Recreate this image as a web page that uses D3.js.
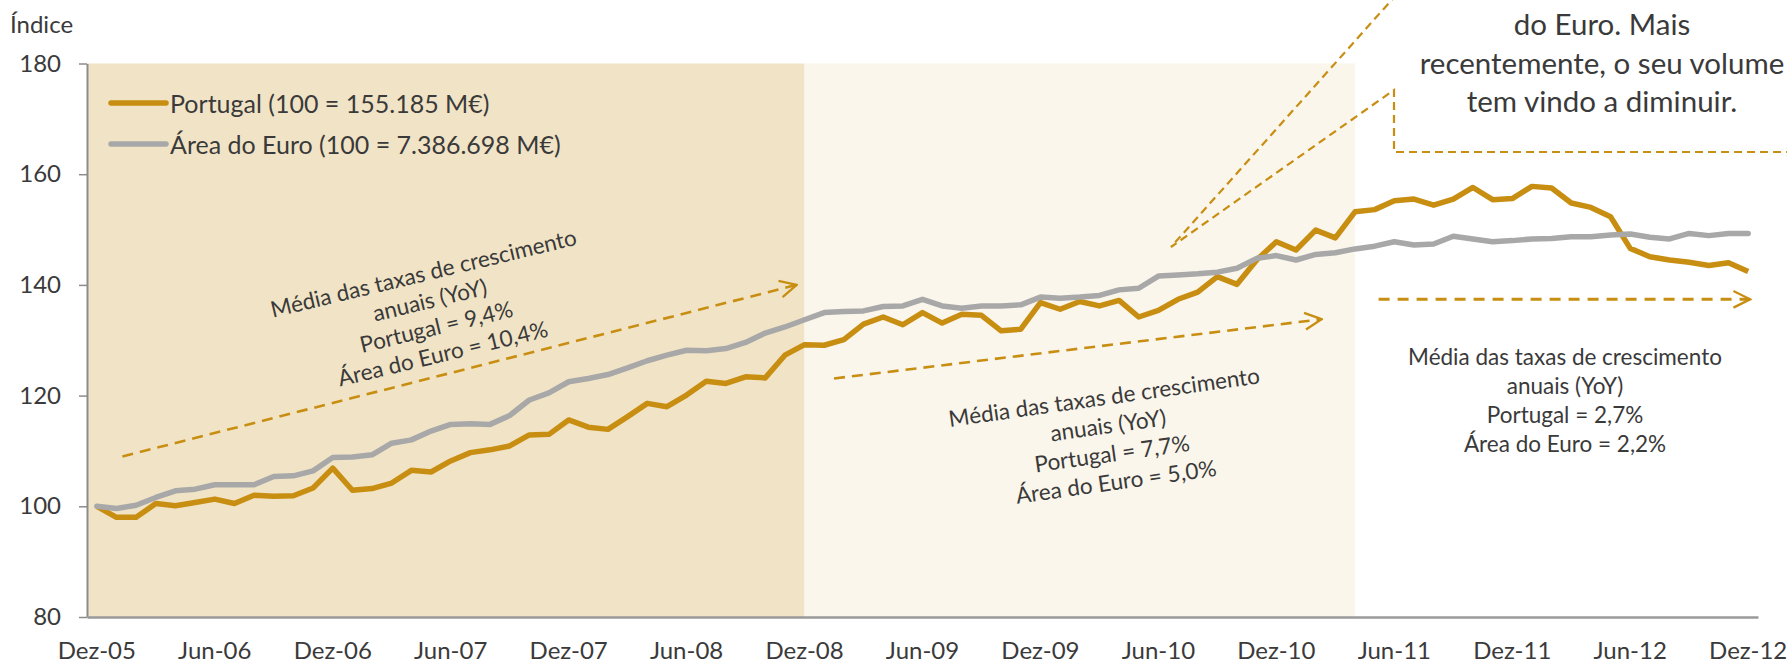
<!DOCTYPE html>
<html>
<head>
<meta charset="utf-8">
<script src="https://cdn.jsdelivr.net/npm/d3@7"></script>
<style>
  body { margin: 0; background: #fff; }
  svg text { font-family: Lato, "Open Sans", sans-serif; fill: #3a3a3a; }
</style>
</head>
<body>
<div id="chart"></div>
<script>
// chart size
const width = 1787
const height = 663

// month names (pt) used to build the monthly categories Dez-05 .. Dez-12
const monthNames = ["Jan", "Fev", "Mar", "Abr", "Mai", "Jun", "Jul", "Ago", "Set", "Out", "Nov", "Dez"]
const categories = []
for (let k = 0; k < 85; k++) {
  const m = (11 + k) % 12
  const yy = 5 + Math.floor((11 + k) / 12)
  categories.push(monthNames[m] + "-" + String(yy).padStart(2, "0"))
}
// x tick labels: every December and June
const xTickLabels = categories.filter((d, i) => i % 6 === 0)
const yTicks = [80, 100, 120, 140, 160, 180]

// index values (100 = Dez-05)
const portugal = [
  100.0, 98.0, 98.0, 100.5, 100.1, 100.7, 101.3, 100.5, 102.0, 101.8, 101.9, 103.3,
  106.9, 102.9, 103.2, 104.2, 106.5, 106.2, 108.2, 109.7, 110.2, 110.9, 112.9, 113.0,
  115.6, 114.3, 113.9, 116.2, 118.6, 118.0, 120.1, 122.6, 122.2, 123.4, 123.2, 127.3,
  129.2, 129.1, 130.1, 132.9, 134.2, 132.8, 135.0, 133.1, 134.7, 134.5, 131.7, 132.0,
  136.8, 135.6, 137.0, 136.2, 137.2, 134.2, 135.4, 137.4, 138.7, 141.5, 140.1, 144.5,
  147.8, 146.3, 149.9, 148.5, 153.2, 153.6, 155.2, 155.5, 154.4, 155.5, 157.6, 155.4,
  155.6, 157.8, 157.5, 154.8, 154.0, 152.3, 146.6, 145.1, 144.5, 144.1, 143.5, 144.0,
  142.4
]
const areaEuro = [
  100.0, 99.6, 100.2, 101.6, 102.8, 103.1, 103.9, 103.9, 103.9, 105.4, 105.5, 106.4,
  108.8, 108.9, 109.3, 111.4, 112.0, 113.6, 114.8, 114.9, 114.8, 116.4, 119.2, 120.5,
  122.5, 123.1, 123.8, 125.0, 126.3, 127.3, 128.2, 128.1, 128.5, 129.6, 131.3, 132.4,
  133.7, 135.0, 135.2, 135.3, 136.1, 136.2, 137.4, 136.2, 135.8, 136.2, 136.2, 136.4,
  137.8, 137.6, 137.8, 138.1, 139.1, 139.4, 141.6, 141.8, 142.0, 142.3, 143.0, 144.8,
  145.3, 144.5, 145.5, 145.8, 146.5, 147.0, 147.8, 147.2, 147.4, 148.8, 148.3, 147.8,
  148.0, 148.3, 148.4, 148.7, 148.7, 149.0, 149.2, 148.6, 148.3, 149.3, 148.9, 149.3,
  149.3
]

// shaded periods, in category index units (from, to)
const periods = [[-0.5, 36], [36, 64]]
const periodFills = ["#F1E4C6", "#FAF6EC"]

// growth arrows: [index, value] start and end
const arrows = [
  [[1.3, 109.0], [35.6, 140.0]],
  [[37.5, 123.1], [62.3, 133.8]],
  [[65.2, 137.4], [84.1, 137.4]]
]
const notes = [
  ["Média das taxas de crescimento", "anuais (YoY)", "Portugal = 9,4%", "Área do Euro = 10,4%"],
  ["Média das taxas de crescimento", "anuais (YoY)", "Portugal = 7,7%", "Área do Euro = 5,0%"],
  ["Média das taxas de crescimento", "anuais (YoY)", "Portugal = 2,7%", "Área do Euro = 2,2%"]
]
const calloutText = ["do Euro. Mais", "recentemente, o seu volume", "tem vindo a diminuir."]

const gold = "#C88E12"
const grey = "#A8A8A8"
const axisGrey = "#8C8C8C"

var svg = d3.select("#chart")
            .append("svg")
            .attr("width", width)
            .attr("height", height)

var x = d3.scaleBand().domain(categories).range([87, 1758])
var y = d3.scaleLinear().domain([80, 180]).range([617, 63.5])

// x position for a (fractional) category index
function xi(i) { return x.range()[0] + (i + 0.5) * x.bandwidth() }

// shaded backgrounds
svg.append("g")
   .selectAll("rect")
   .data(periods)
   .enter()
   .append("rect")
   .attr("x", d => xi(d[0]))
   .attr("width", d => xi(d[1]) - xi(d[0]))
   .attr("y", y(180))
   .attr("height", y(80) - y(180))
   .attr("fill", (d, i) => periodFills[i])

// arrow head marker
svg.append("defs").append("marker")
   .attr("id", "head")
   .attr("viewBox", "0 0 12 12")
   .attr("refX", 11).attr("refY", 6)
   .attr("markerWidth", 20).attr("markerHeight", 20)
   .attr("markerUnits", "userSpaceOnUse")
   .attr("orient", "auto")
   .append("path")
   .attr("d", "M1,1 L11,6 L1,11")
   .attr("fill", "none")
   .attr("stroke", gold)
   .attr("stroke-width", 1.4)

// axes
var yAxis = svg.append("g")
   .attr("transform", "translate(87,0)")
   .call(d3.axisLeft(y).tickValues(yTicks).tickSize(8).tickSizeOuter(0).tickPadding(18))
yAxis.select(".domain").attr("stroke", axisGrey).attr("stroke-width", 2)
yAxis.selectAll(".tick line").attr("stroke", axisGrey).attr("stroke-width", 1.5)
yAxis.selectAll(".tick text").style("font-size", "24px")

var xAxis = svg.append("g")
   .attr("transform", "translate(0,617)")
   .call(d3.axisBottom(x).tickValues(xTickLabels).tickSize(0).tickSizeOuter(0).tickPadding(25))
xAxis.select(".domain").attr("stroke", "#9A9A9A").attr("stroke-width", 2.5)
xAxis.selectAll(".tick text").style("font-size", "24px")

svg.append("text")
   .attr("x", 10).attr("y", 33)
   .style("font-size", "24px")
   .text("Índice")

// dashed growth arrows
svg.append("g")
   .selectAll("line")
   .data(arrows)
   .enter()
   .append("line")
   .attr("x1", d => xi(d[0][0])).attr("y1", d => y(d[0][1]))
   .attr("x2", d => xi(d[1][0])).attr("y2", d => y(d[1][1]))
   .attr("stroke", gold)
   .attr("stroke-width", (d, i) => i === 2 ? 3 : 2.6)
   .attr("stroke-dasharray", (d, i) => i === 2 ? "11 8" : "11 7")
   .attr("marker-end", "url(#head)")

// series lines
var line = d3.line()
   .x((d, i) => xi(i))
   .y(d => y(d))
   .curve(d3.curveLinear)

svg.append("path")
   .datum(portugal)
   .attr("d", line)
   .attr("fill", "none")
   .attr("stroke", gold)
   .attr("stroke-width", 5.5)
   .attr("stroke-linejoin", "round")

svg.append("path")
   .datum(areaEuro)
   .attr("d", line)
   .attr("fill", "none")
   .attr("stroke", grey)
   .attr("stroke-width", 5.5)
   .attr("stroke-linejoin", "round")
   .attr("stroke-linecap", "round")

// annotation texts (centre, rotation, line spacing)
const noteLayout = [
  {cx: 433, cy: 313, rot: -13.5, gap: 27.5},
  {cx: 1110, cy: 439, rot: -8, gap: 28.5},
  {cx: 1565, cy: 400, rot: 0, gap: 29}
]
notes.forEach(function(lines, n) {
  var L = noteLayout[n]
  var g = svg.append("g")
     .attr("transform", "translate(" + L.cx + "," + L.cy + ") rotate(" + L.rot + ")")
  g.selectAll("text")
   .data(lines)
   .enter()
   .append("text")
   .attr("text-anchor", "middle")
   .attr("dominant-baseline", "central")
   .attr("y", (d, i) => (i - 1.5) * L.gap)
   .style("font-size", "22.5px")
   .text(d => d)
})

// callout box, top right
svg.append("path")
   .attr("d", "M1397,-6 L1171,247 L1394,90 L1394,152 L1790,152")
   .attr("fill", "none")
   .attr("stroke", gold)
   .attr("stroke-width", 2.2)
   .attr("stroke-dasharray", "8 5")

svg.append("g")
   .selectAll("text")
   .data(calloutText)
   .enter()
   .append("text")
   .attr("x", 1602)
   .attr("y", (d, i) => 35 + i * 38.5)
   .attr("text-anchor", "middle")
   .style("font-size", "29.5px")
   .text(d => d)

// legend
const legendItems = [
  {label: "Portugal (100 = 155.185 M€)", color: gold},
  {label: "Área do Euro (100 = 7.386.698 M€)", color: grey}
]
var legend = svg.append("g")
   .selectAll("g")
   .data(legendItems)
   .enter()
   .append("g")
   .attr("transform", (d, i) => "translate(111," + (103 + i * 41) + ")")
legend.append("line")
   .attr("x1", 0).attr("x2", 55)
   .attr("stroke", d => d.color)
   .attr("stroke-width", 5.5)
   .attr("stroke-linecap", "round")
legend.append("text")
   .attr("x", 59)
   .attr("dominant-baseline", "central")
   .style("font-size", "25px")
   .text(d => d.label)
</script>
</body>
</html>
